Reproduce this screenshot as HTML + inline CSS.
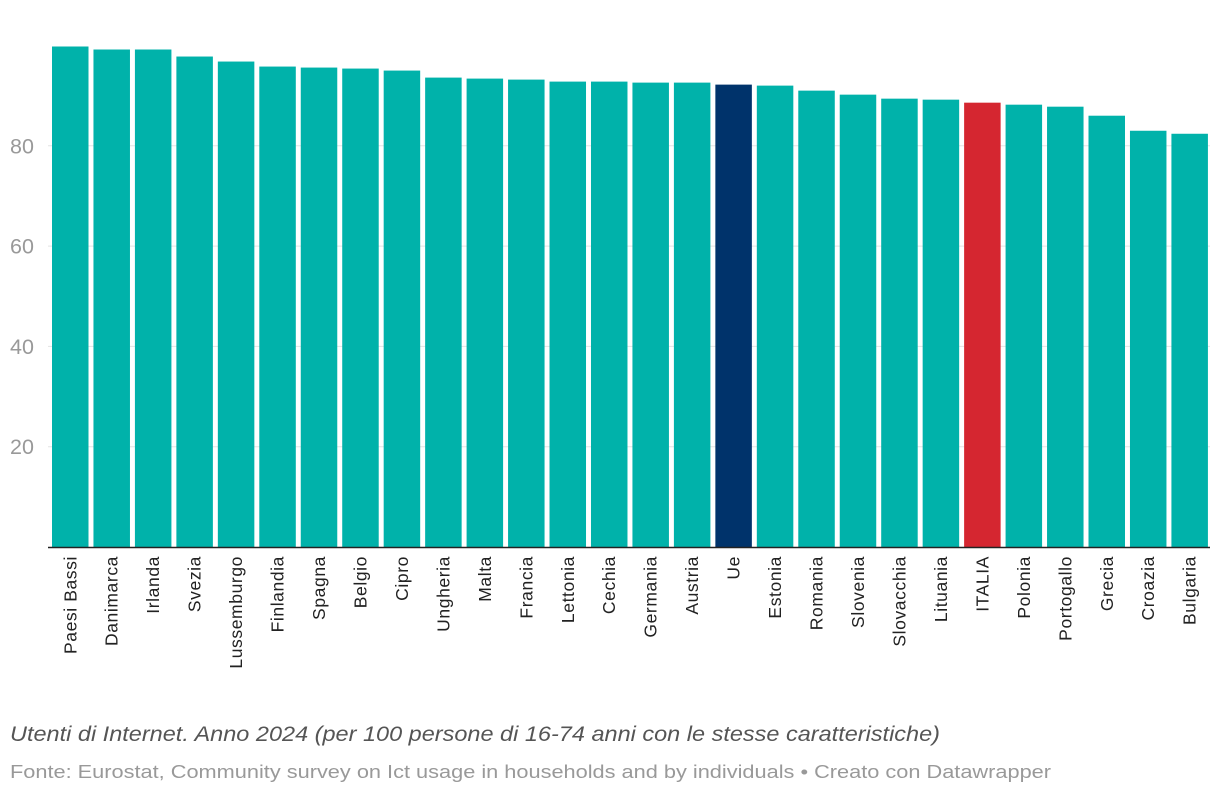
<!DOCTYPE html>
<html><head><meta charset="utf-8"><style>
body{margin:0;background:#fff;width:1220px;height:796px;overflow:hidden;font-family:"Liberation Sans",sans-serif}
</style></head><body>
<svg width="1220" height="796">
<g id="grid"></g><g id="bars"></g><g id="labels"></g>
<line x1="48" x2="1210" y1="547.5" y2="547.5" stroke="#222" stroke-width="1.5"/>
<text x="10" y="741" font-size="21" font-style="italic" fill="#555" textLength="930" lengthAdjust="spacingAndGlyphs">Utenti di Internet. Anno 2024 (per 100 persone di 16-74 anni con le stesse caratteristiche)</text>
<text x="10" y="778" font-size="18.5" fill="#999" textLength="1041" lengthAdjust="spacingAndGlyphs">Fonte: Eurostat, Community survey on Ict usage in households and by individuals • Creato con Datawrapper</text>
</svg>
<script>
const categories=["Paesi Bassi","Danimarca","Irlanda","Svezia","Lussemburgo","Finlandia","Spagna","Belgio","Cipro","Ungheria","Malta","Francia","Lettonia","Cechia","Germania","Austria","Ue","Estonia","Romania","Slovenia","Slovacchia","Lituania","ITALIA","Polonia","Portogallo","Grecia","Croazia","Bulgaria"];
const values=[99.8,99.2,99.2,97.8,96.8,95.8,95.6,95.4,95.0,93.6,93.4,93.2,92.8,92.8,92.6,92.6,92.2,92.0,91.0,90.2,89.4,89.2,88.6,88.2,87.8,86.0,83.0,82.4];
const yTicks=[20,40,60,80];
const NS="http://www.w3.org/2000/svg";
const y0=547,k=5.015,x0=52,pitch=41.46,bw=36.5;
const y=v=>y0-v*k, x=i=>x0+i*pitch;
const g=document.getElementById('grid'),b=document.getElementById('bars'),l=document.getElementById('labels');
yTicks.forEach(t=>{
 const ln=document.createElementNS(NS,'line');
 
 
 ln.setAttribute('x1',48);ln.setAttribute('x2',1210);ln.setAttribute('y1',y(t));ln.setAttribute('y2',y(t));
 ln.setAttribute('stroke','#e3e3e3');ln.setAttribute('stroke-width',1);g.appendChild(ln);
 const tx=document.createElementNS(NS,'text');
 
 
 tx.setAttribute('x',10);tx.setAttribute('y',y(t)+7.5);tx.setAttribute('font-size',21.5);tx.setAttribute('fill','#999');
 tx.textContent=t;g.appendChild(tx);
});
categories.forEach((c,i)=>{
 const r=document.createElementNS(NS,'rect');
 
 
 r.setAttribute('x',x(i));r.setAttribute('width',bw);r.setAttribute('y',y(values[i]));r.setAttribute('height',y0-y(values[i]));
 r.setAttribute('fill',c==='Ue'?'#00336b':c==='ITALIA'?'#d52630':'#00b2aa');b.appendChild(r);
 const t=document.createElementNS(NS,'text');
 
 
 const cx=x(i)+bw/2+6;
 t.setAttribute('transform',`translate(${cx},556) rotate(-90)`);
 t.setAttribute('text-anchor','end');t.setAttribute('font-size',17.5);t.setAttribute('letter-spacing','0.6');t.setAttribute('fill','#222');
 t.textContent=c;l.appendChild(t);
});
</script>
</body></html>
